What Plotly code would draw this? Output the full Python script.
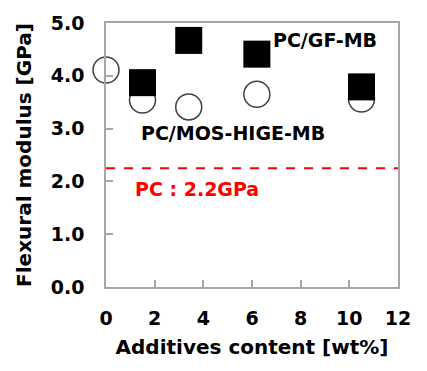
import plotly.graph_objects as go

# Data
mos_x = [0, 1.5, 3.4, 6.2, 10.5]
mos_y = [4.11, 3.54, 3.41, 3.65, 3.56]
gf_x = [1.5, 3.4, 6.2, 10.5]
gf_y = [3.87, 4.67, 4.41, 3.79]
pc_value = 2.25
x_ticks = [0, 2, 4, 6, 8, 10, 12]
y_ticks = [0, 1, 2, 3, 4, 5]

FONT = "DejaVu Sans"
FS = 19

fig = go.Figure()
fig.add_trace(go.Scatter(
    x=mos_x, y=mos_y, mode="markers", cliponaxis=False,
    marker=dict(symbol="circle", size=26, color="white",
                line=dict(color="#404040", width=1.5)),
    name="PC/MOS-HIGE-MB"))
fig.add_trace(go.Scatter(
    x=gf_x, y=gf_y, mode="markers", cliponaxis=False,
    marker=dict(symbol="square", size=27, color="black",
                line=dict(width=0)),
    name="PC/GF-MB"))
fig.add_shape(type="line", xref="x", yref="y", x0=0, x1=12,
              y0=pc_value, y1=pc_value,
              line=dict(color="red", width=2, dash="dash"))

fig.add_annotation(x=6.8, y=4.67, xref="x", yref="y", text="<b>PC/GF-MB</b>",
                   showarrow=False, xanchor="left",
                   font=dict(family=FONT, size=FS, color="black"))
fig.add_annotation(x=1.35, y=2.91, xref="x", yref="y", text="<b>PC/MOS-HIGE-MB</b>",
                   showarrow=False, xanchor="left",
                   font=dict(family=FONT, size=FS, color="black"))
fig.add_annotation(x=1.12, y=1.85, xref="x", yref="y", text="<b>PC : 2.2GPa</b>",
                   showarrow=False, xanchor="left",
                   font=dict(family=FONT, size=FS, color="red"))

axis_common = dict(showline=True, linecolor="#a6a6a6", linewidth=1.5, mirror=True,
                   showgrid=False, zeroline=False, ticks="inside", ticklen=7,
                   tickcolor="#a6a6a6", tickwidth=1.5, automargin=False)
fig.update_xaxes(range=[0, 12], tickvals=x_ticks,
                 ticktext=[f"<b>{v}</b>" for v in x_ticks],
                 tickfont=dict(family=FONT, size=FS, color="black"),
                 ticklabelstandoff=13,
                 title=dict(text="<b>Additives content [wt%]</b>", standoff=12,
                            font=dict(family=FONT, size=20, color="black")),
                 **axis_common)
fig.update_yaxes(range=[0, 5], tickvals=y_ticks,
                 ticktext=[f"<b>{v:.1f}</b>" for v in y_ticks],
                 tickfont=dict(family=FONT, size=FS, color="black"),
                 ticklabelstandoff=16,
                 title=dict(text="<b>Flexural modulus [GPa]</b>", standoff=14,
                            font=dict(family=FONT, size=20, color="black")),
                 **axis_common)
fig.update_layout(width=427, height=371, showlegend=False,
                  margin=dict(l=98, r=37, t=15, b=92),
                  plot_bgcolor="white", paper_bgcolor="white")
fig.write_html("out.html")
